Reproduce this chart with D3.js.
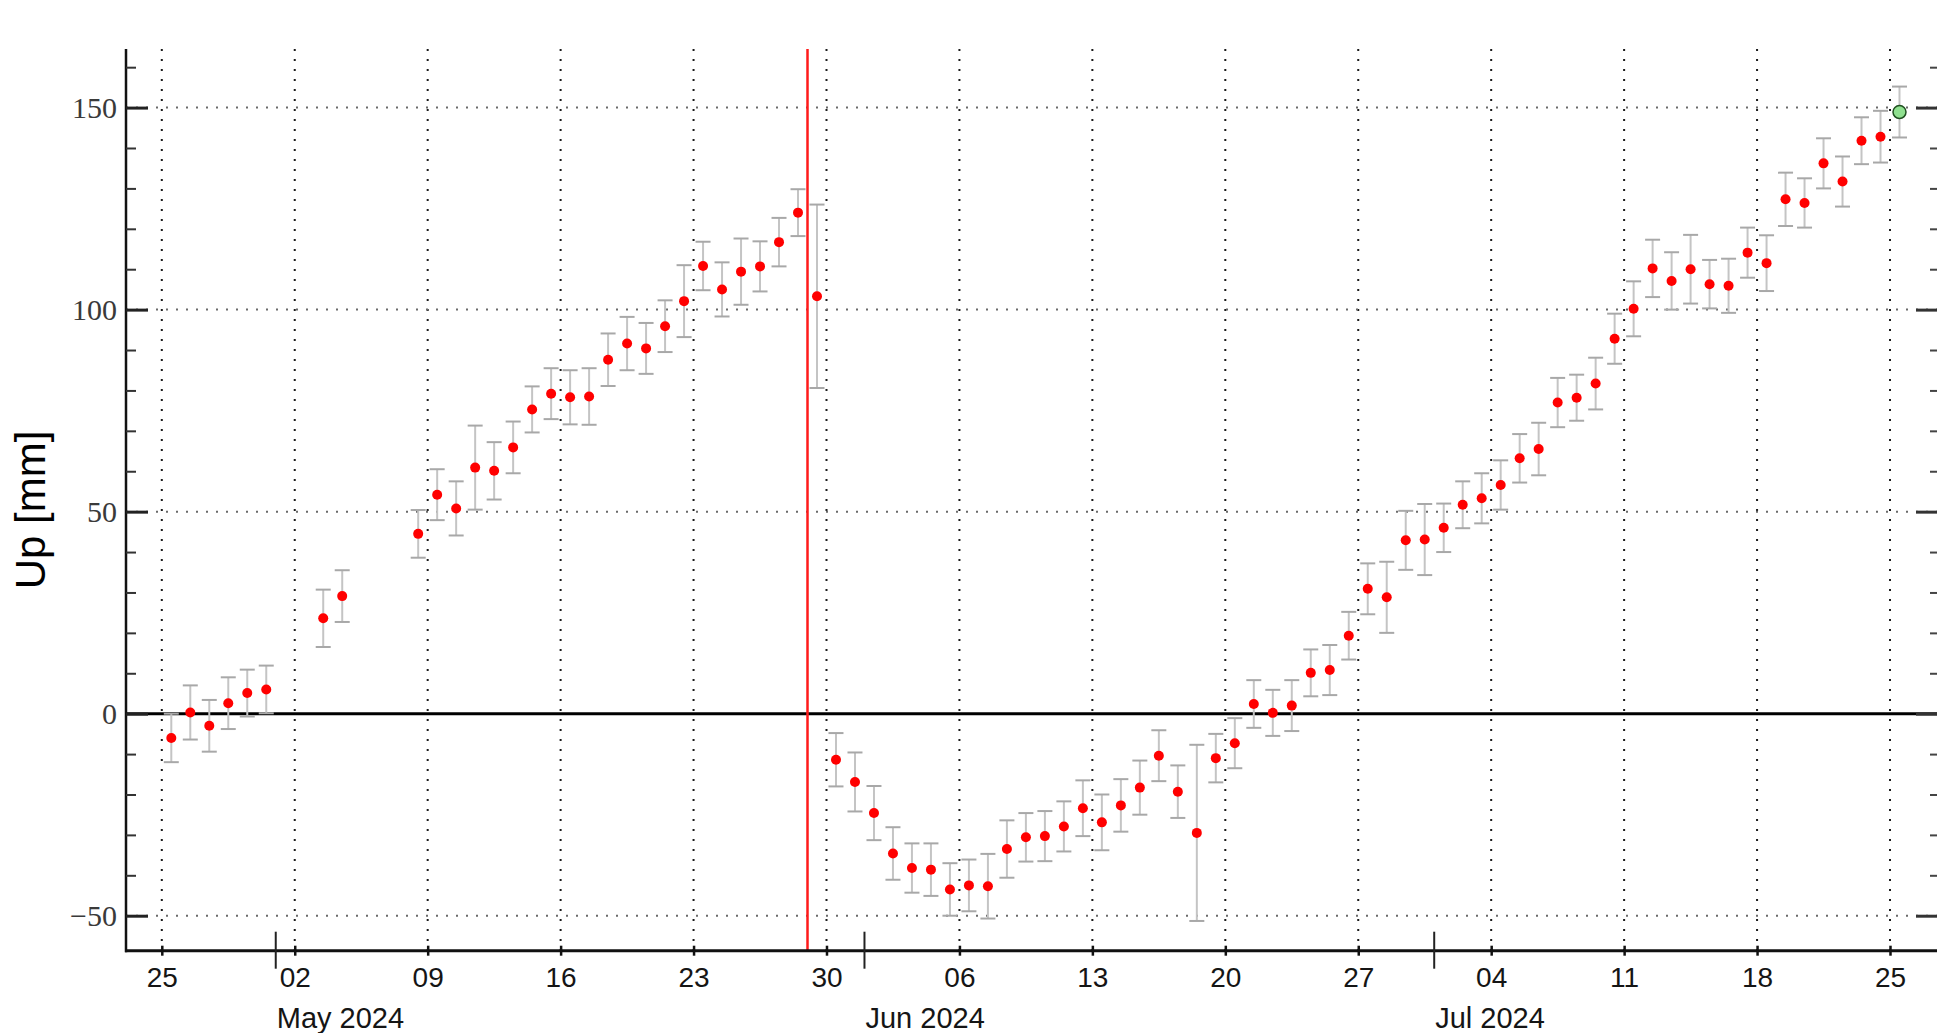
<!DOCTYPE html>
<html><head><meta charset="utf-8">
<script src="https://cdn.jsdelivr.net/npm/d3@7"></script>
<style>html,body{margin:0;padding:0;background:#fff;} svg{display:block}</style>
</head><body><svg id="c" width="1937" height="1033"></svg>
<script>
// ---------------- data ----------------
const dates = [
"2024-04-25","2024-04-26","2024-04-27","2024-04-28","2024-04-29","2024-04-30",
"2024-05-03","2024-05-04",
"2024-05-08","2024-05-09","2024-05-10","2024-05-11","2024-05-12","2024-05-13","2024-05-14","2024-05-15","2024-05-16","2024-05-17",
"2024-05-18","2024-05-19","2024-05-20","2024-05-21","2024-05-22","2024-05-23","2024-05-24","2024-05-25","2024-05-26","2024-05-27",
"2024-05-28","2024-05-29",
"2024-05-30","2024-05-31","2024-06-01","2024-06-02","2024-06-03","2024-06-04","2024-06-05","2024-06-06","2024-06-07","2024-06-08",
"2024-06-09","2024-06-10","2024-06-11","2024-06-12","2024-06-13","2024-06-14","2024-06-15","2024-06-16","2024-06-17","2024-06-18",
"2024-06-19","2024-06-20","2024-06-21","2024-06-22","2024-06-23","2024-06-24","2024-06-25","2024-06-26","2024-06-27","2024-06-28",
"2024-06-29","2024-06-30",
"2024-07-01","2024-07-02","2024-07-03","2024-07-04","2024-07-05","2024-07-06","2024-07-07","2024-07-08","2024-07-09","2024-07-10",
"2024-07-11","2024-07-12","2024-07-13","2024-07-14","2024-07-15","2024-07-16","2024-07-17","2024-07-18","2024-07-19","2024-07-20",
"2024-07-21","2024-07-22","2024-07-23","2024-07-24","2024-07-25"
];
const upValues = [
-6.0, 0.3, -3.0, 2.6, 5.1, 6.0,
23.6, 29.1,
44.5, 54.2, 50.8, 60.9, 60.1, 65.9, 75.3, 79.2, 78.3, 78.5,
87.6, 91.6, 90.4, 95.9, 102.1, 110.8, 105.0, 109.4, 110.7, 116.7,
124.0, 103.3,
-11.4, -16.9, -24.6, -34.6, -38.2, -38.6, -43.5, -42.5, -42.7, -33.5,
-30.6, -30.3, -27.9, -23.4, -26.9, -22.7, -18.3, -10.4, -19.3, -29.5,
-11.0, -7.3, 2.4, 0.2, 2.0, 10.1, 10.8, 19.3, 30.9, 28.8,
42.9, 43.1,
46.0, 51.7, 53.3, 56.6, 63.2, 65.5, 77.0, 78.2, 81.7, 92.8,
100.2, 110.2, 107.1, 110.0, 106.3, 105.9, 114.1, 111.5, 127.3, 126.4,
136.2, 131.7, 141.8, 142.8, 148.9
];
const upErrors = [
6.0, 6.7, 6.4, 6.4, 5.8, 5.9,
7.1, 6.4,
5.9, 6.3, 6.7, 10.4, 7.1, 6.4, 5.7, 6.3, 6.7, 7.0,
6.5, 6.6, 6.3, 6.4, 8.9, 6.0, 6.7, 8.2, 6.2, 6.0,
5.8, 22.7,
6.6, 7.3, 6.7, 6.5, 6.1, 6.5, 6.5, 6.4, 8.0, 7.1,
6.0, 6.2, 6.2, 6.9, 6.9, 6.5, 6.7, 6.3, 6.5, 21.8,
6.0, 6.2, 5.9, 5.7, 6.3, 5.8, 6.2, 5.9, 6.3, 8.8,
7.3, 8.8,
6.0, 5.8, 6.2, 6.1, 6.0, 6.5, 6.1, 5.7, 6.4, 6.2,
6.8, 7.1, 7.1, 8.5, 6.0, 6.7, 6.2, 6.9, 6.6, 6.1,
6.2, 6.2, 5.8, 6.4, 6.3
];
const weekTicks = ["2024-04-25","2024-05-02","2024-05-09","2024-05-16","2024-05-23","2024-05-30",
  "2024-06-06","2024-06-13","2024-06-20","2024-06-27","2024-07-04","2024-07-11","2024-07-18","2024-07-25"];
const monthStarts = ["2024-05-01","2024-06-01","2024-07-01"];
const monthLabels = ["May 2024","Jun 2024","Jul 2024"];
const yTicksMajor = [-50, 0, 50, 100, 150];
const yTicksMinor = [-50,-40,-30,-20,-10,0,10,20,30,40,50,60,70,80,90,100,110,120,130,140,150,160];
const yGridValues = [-50, 50, 100, 150];
const eventDate = "2024-05-29";
const yLabel = "Up [mm]";

// ---------------- layout ----------------
const W = 1937, H = 1033;
const plot = {left: 126, right: 1940, top: 49, bottom: 950.7};
const parse = d3.timeParse("%Y-%m-%d");

const xRef = d3.scaleTime().domain([parse("2024-04-25"), parse("2024-07-25")]).range([161.8, 1890]);
const x = d3.scaleTime().domain([xRef.invert(plot.left), xRef.invert(plot.right)]).range([plot.left, plot.right]);
const y = d3.scaleLinear().domain([-58.66, 164.5]).range([plot.bottom, plot.top]);

const data = dates.map((d, i) => ({
  t: d3.timeHour.offset(parse(d), 12), v: upValues[i], e: upErrors[i], last: i === dates.length - 1
}));

const svg = d3.select("#c");
svg.append("rect").attr("width", W).attr("height", H).attr("fill", "#fff");

// grid: vertical (weekly)
svg.append("g").selectAll("line").data(weekTicks).join("line")
  .attr("x1", d => x(parse(d))).attr("x2", d => x(parse(d)))
  .attr("y1", plot.top).attr("y2", plot.bottom)
  .attr("stroke", "#1a1a1a").attr("stroke-width", 2).attr("stroke-dasharray", "2,8");
// grid: horizontal
svg.append("g").selectAll("line").data(yGridValues).join("line")
  .attr("x1", plot.left).attr("x2", W)
  .attr("y1", d => y(d)).attr("y2", d => y(d))
  .attr("stroke", "#6a6a6a").attr("stroke-width", 2).attr("stroke-dasharray", "2,8");

// zero line
svg.append("line").attr("x1", plot.left).attr("x2", W).attr("y1", y(0)).attr("y2", y(0))
  .attr("stroke", "#000").attr("stroke-width", 3);

// error bars
const eb = svg.append("g").selectAll("g").data(data).join("g");
eb.append("line")
  .attr("x1", d => x(d.t)).attr("x2", d => x(d.t))
  .attr("y1", d => y(d.v + d.e)).attr("y2", d => y(d.v - d.e))
  .attr("stroke", "#c4c4c4").attr("stroke-width", 2);
eb.append("line")
  .attr("x1", d => x(d.t) - 7.5).attr("x2", d => x(d.t) + 7.5)
  .attr("y1", d => y(d.v + d.e)).attr("y2", d => y(d.v + d.e))
  .attr("stroke", "#a8a8a8").attr("stroke-width", 2);
eb.append("line")
  .attr("x1", d => x(d.t) - 7.5).attr("x2", d => x(d.t) + 7.5)
  .attr("y1", d => y(d.v - d.e)).attr("y2", d => y(d.v - d.e))
  .attr("stroke", "#a8a8a8").attr("stroke-width", 2);

// event line
svg.append("line").attr("x1", x(parse(eventDate))).attr("x2", x(parse(eventDate)))
  .attr("y1", plot.top).attr("y2", plot.bottom)
  .attr("stroke", "#ff1a1a").attr("stroke-width", 2.5);

// points
svg.append("g").selectAll("circle").data(data).join("circle")
  .attr("cx", d => x(d.t)).attr("cy", d => y(d.v))
  .attr("r", d => d.last ? 6.5 : 5)
  .attr("fill", d => d.last ? "#8fe08f" : "#ff0000")
  .attr("stroke", d => d.last ? "#1f4f1f" : "none")
  .attr("stroke-width", d => d.last ? 1.5 : 0);

// spines
svg.append("line").attr("x1", plot.left).attr("x2", plot.left).attr("y1", plot.top).attr("y2", plot.bottom + 1.5)
  .attr("stroke", "#111").attr("stroke-width", 2.5);
svg.append("line").attr("x1", plot.left - 1).attr("x2", W).attr("y1", plot.bottom).attr("y2", plot.bottom)
  .attr("stroke", "#111").attr("stroke-width", 3);

// y axis (left) major + labels
const fmtY = d => d < 0 ? "\u2212" + Math.abs(d) : String(d);
const yAxisL = svg.append("g").attr("transform", `translate(${plot.left},0)`)
  .call(d3.axisLeft(y).tickValues(yTicksMajor).tickSize(-22).tickPadding(9).tickFormat(fmtY));
yAxisL.select(".domain").remove();
yAxisL.selectAll("line").attr("stroke", "#222").attr("stroke-width", 3);
yAxisL.selectAll("text").attr("font-family", "'Liberation Serif', 'DejaVu Serif', serif")
  .attr("font-size", 30).attr("fill", "#3a3a3a");
const yAxisLm = svg.append("g").attr("transform", `translate(${plot.left},0)`)
  .call(d3.axisLeft(y).tickValues(yTicksMinor.filter(v => !yTicksMajor.includes(v))).tickSize(-10).tickFormat(""));
yAxisLm.select(".domain").remove();
yAxisLm.selectAll("line").attr("stroke", "#333").attr("stroke-width", 2);

// y axis (right) ticks only
const yAxisR = svg.append("g").attr("transform", `translate(${plot.right},0)`)
  .call(d3.axisRight(y).tickValues(yTicksMajor).tickSize(-24).tickFormat(""));
yAxisR.select(".domain").remove();
yAxisR.selectAll("line").attr("stroke", "#333").attr("stroke-width", 3);
const yAxisRm = svg.append("g").attr("transform", `translate(${plot.right},0)`)
  .call(d3.axisRight(y).tickValues(yTicksMinor.filter(v => !yTicksMajor.includes(v))).tickSize(-10).tickFormat(""));
yAxisRm.select(".domain").remove();
yAxisRm.selectAll("line").attr("stroke", "#444").attr("stroke-width", 2);

// x axis: weekly ticks + day labels
const xAxis = svg.append("g").attr("transform", `translate(0,${plot.bottom})`)
  .call(d3.axisBottom(x).tickValues(weekTicks.map(parse)).tickSize(5).tickFormat(d3.timeFormat("%d")));
xAxis.select(".domain").remove();
xAxis.selectAll("line").attr("y1", -5).attr("y2", 5).attr("stroke", "#111").attr("stroke-width", 2.5);
xAxis.selectAll("text").attr("y", 36.5).attr("dy", 0)
  .attr("font-family", "'Liberation Sans', Arial, sans-serif").attr("font-size", 28).attr("fill", "#151515");

// month boundary ticks + labels
svg.append("g").selectAll("line").data(monthStarts).join("line")
  .attr("x1", d => x(parse(d))).attr("x2", d => x(parse(d)))
  .attr("y1", plot.bottom - 19).attr("y2", plot.bottom + 18)
  .attr("stroke", "#222").attr("stroke-width", 2);
svg.append("g").selectAll("text").data(monthStarts).join("text")
  .attr("x", d => x(parse(d)) + 1).attr("y", 1028)
  .attr("font-family", "'Liberation Sans', Arial, sans-serif").attr("font-size", 29).attr("fill", "#151515")
  .text((d, i) => monthLabels[i]);

// y label
svg.append("text").attr("transform", "translate(45,510) rotate(-90)")
  .attr("text-anchor", "middle")
  .attr("font-family", "'Liberation Sans', Arial, sans-serif").attr("font-size", 42).attr("fill", "#000")
  .text(yLabel);
</script>
</body></html>
